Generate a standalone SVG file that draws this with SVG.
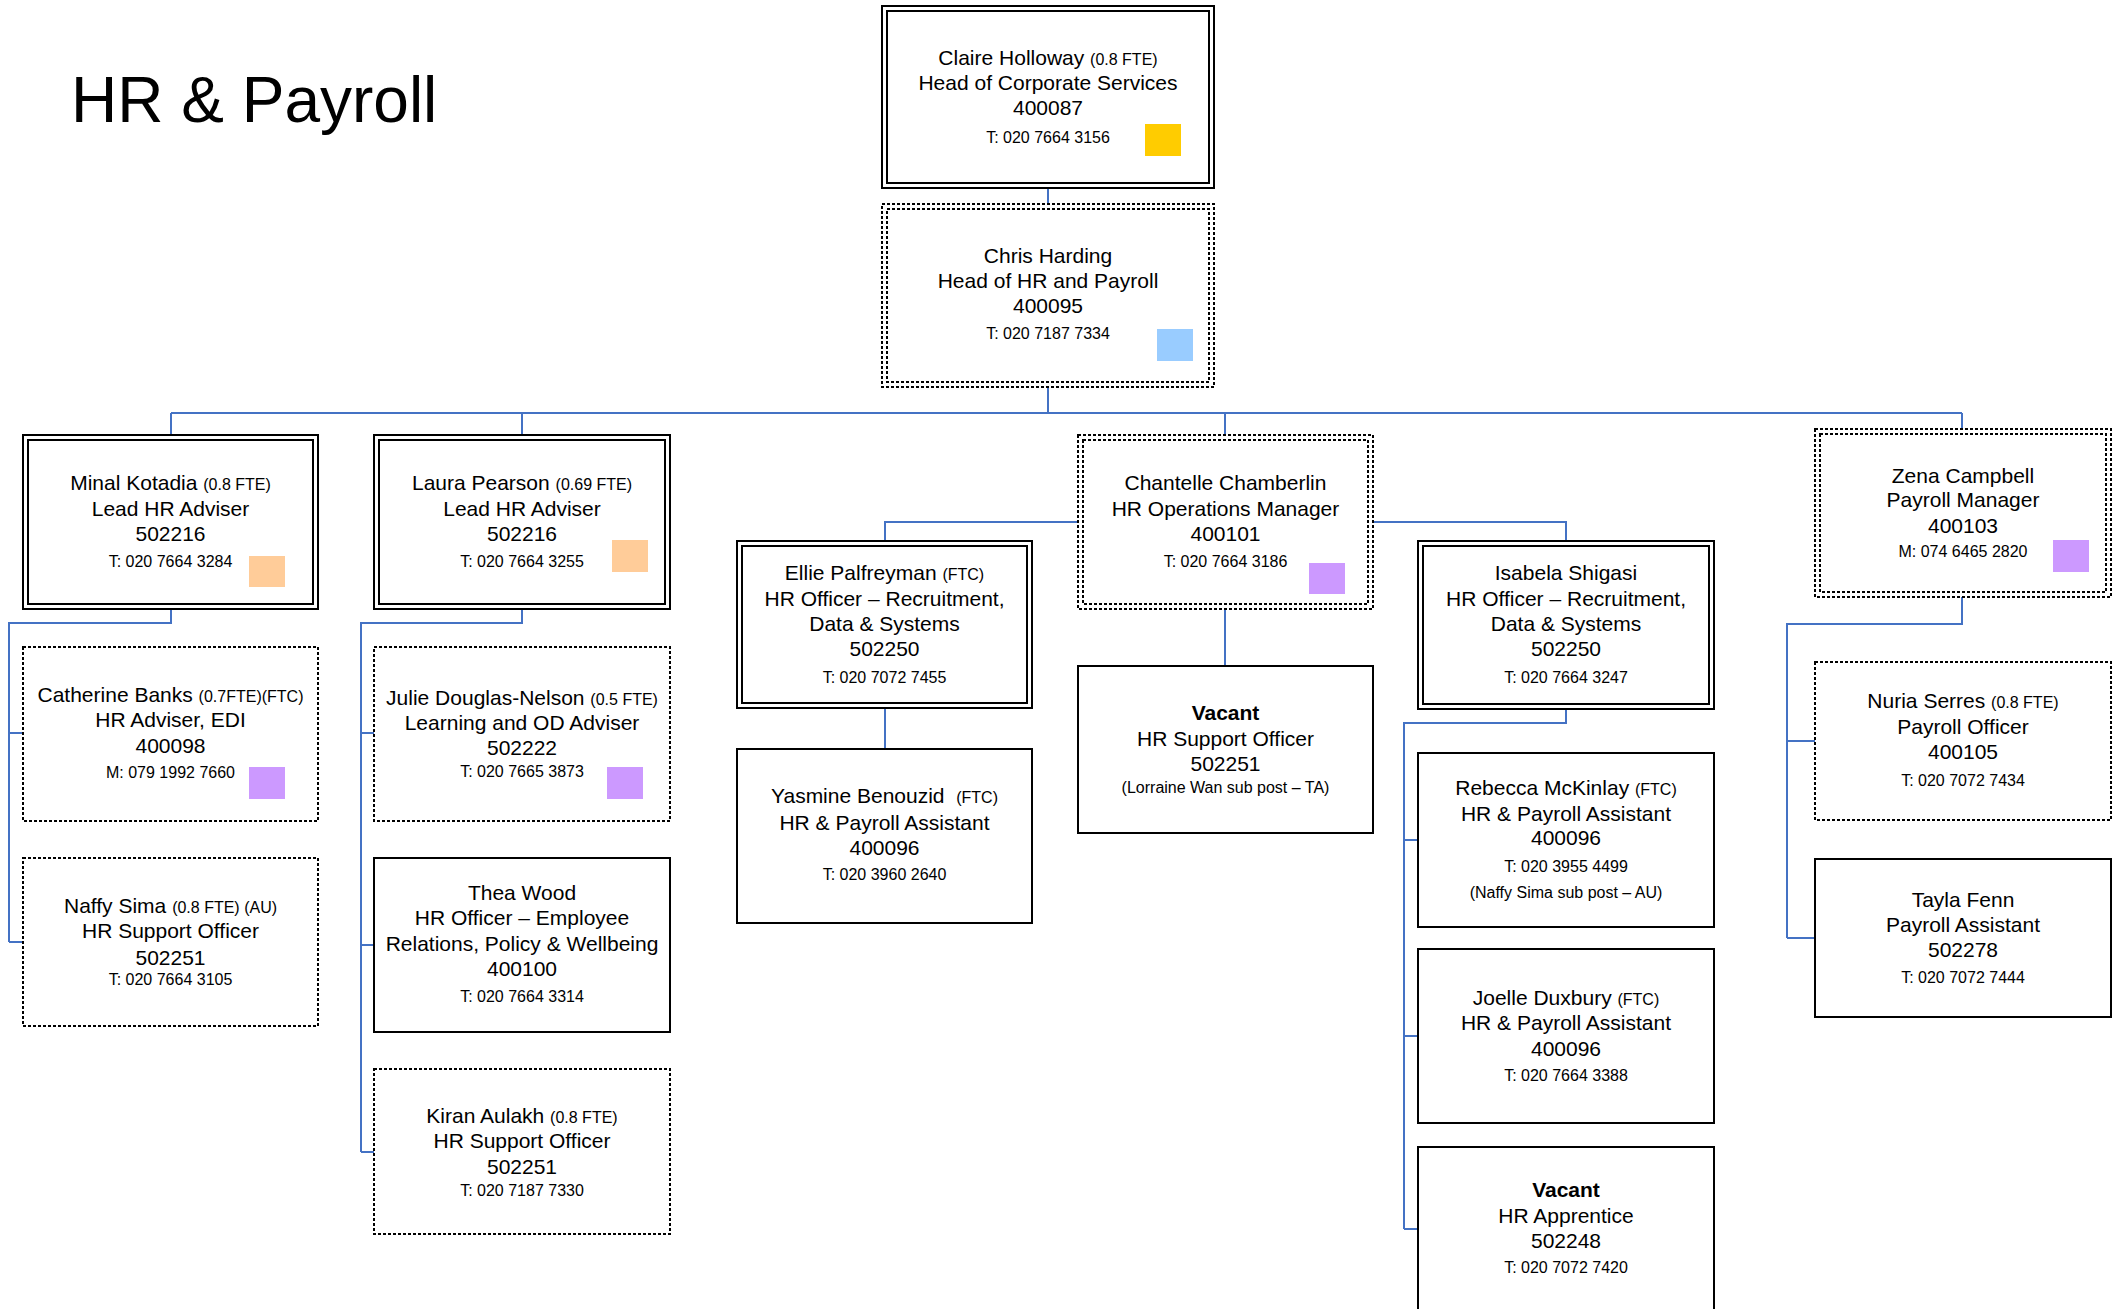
<svg xmlns="http://www.w3.org/2000/svg" width="2121" height="1309" viewBox="0 0 2121 1309">
<style>
text{font-family:"Liberation Sans",Arial,sans-serif;fill:#000;text-anchor:middle;font-size:21px}
.title{font-size:64px;text-anchor:start}
.s{font-size:16px}
.b{font-weight:bold}
.solid{fill:none;stroke:#000;stroke-width:2}
.dot{fill:none;stroke:#000;stroke-width:2;stroke-dasharray:3 2}
.con{fill:none;stroke:#4472C4;stroke-width:2}
.bg{fill:#fff;stroke:none}
</style>
<rect x="0" y="0" width="2121" height="1309" fill="#fff"/>
<text class="title" x="71" y="122">HR &amp; Payroll</text>

<g id="connectors">
<path class="con" d="M1048 188V204"/>
<path class="con" d="M1048 387V413"/>
<path class="con" d="M171 413H1962"/>
<path class="con" d="M171 413V435M522 413V435M1225 413V435M1962 413V429"/>
<path class="con" d="M171 609V623H9V942M9 733H23M9 942H23"/>
<path class="con" d="M522 609V623H361V1152M361 733H374M361 945H374M361 1152H374"/>
<path class="con" d="M1078 522H885V541M1373 522H1566V541M1225 609V666"/>
<path class="con" d="M885 708V749"/>
<path class="con" d="M1566 709V723H1404V1229M1404 840H1418M1404 1036H1418M1404 1229H1418"/>
<path class="con" d="M1962 597V624H1787V938M1787 741H1815M1787 938H1815"/>
</g>

<g id="claire">
<rect class="bg" x="882" y="6" width="332" height="182"/>
<rect class="solid" x="882" y="6" width="332" height="182"/>
<rect class="solid" x="887" y="11" width="322" height="172"/>
<text x="1048" y="65">Claire Holloway <tspan class="s">(0.8 FTE)</tspan></text>
<text x="1048" y="90">Head of Corporate Services</text>
<text x="1048" y="115">400087</text>
<text class="s" x="1048" y="143">T: 020 7664 3156</text>
<rect x="1145" y="124" width="36" height="32" fill="#FFCC00"/>
</g>

<g id="chris">
<rect class="bg" x="882" y="204" width="332" height="183"/>
<rect class="dot" x="882" y="204" width="332" height="183"/>
<rect class="dot" x="887" y="209" width="322" height="173"/>
<text x="1048" y="263">Chris Harding</text>
<text x="1048" y="288">Head of HR and Payroll</text>
<text x="1048" y="313">400095</text>
<text class="s" x="1048" y="339">T: 020 7187 7334</text>
<rect x="1157" y="329" width="36" height="32" fill="#99CCFF"/>
</g>

<g id="minal">
<rect class="bg" x="23" y="435" width="295" height="174"/>
<rect class="solid" x="23" y="435" width="295" height="174"/>
<rect class="solid" x="28" y="440" width="285" height="164"/>
<text x="170.5" y="490">Minal Kotadia <tspan class="s">(0.8 FTE)</tspan></text>
<text x="170.5" y="516">Lead HR Adviser</text>
<text x="170.5" y="541">502216</text>
<text class="s" x="170.5" y="567">T: 020 7664 3284</text>
<rect x="249" y="556" width="36" height="31" fill="#FFCC99"/>
</g>

<g id="catherine">
<rect class="dot" x="23" y="647" width="295" height="174"/>
<text x="170.5" y="702">Catherine Banks <tspan class="s">(0.7FTE)(FTC)</tspan></text>
<text x="170.5" y="727">HR Adviser, EDI</text>
<text x="170.5" y="753">400098</text>
<text class="s" x="170.5" y="778">M: 079 1992 7660</text>
<rect x="249" y="767" width="36" height="32" fill="#CC99FF"/>
</g>

<g id="naffy">
<rect class="dot" x="23" y="858" width="295" height="168"/>
<text x="170.5" y="913">Naffy Sima <tspan class="s">(0.8 FTE) (AU)</tspan></text>
<text x="170.5" y="938">HR Support Officer</text>
<text x="170.5" y="965">502251</text>
<text class="s" x="170.5" y="985">T: 020 7664 3105</text>
</g>

<g id="laura">
<rect class="bg" x="374" y="435" width="296" height="174"/>
<rect class="solid" x="374" y="435" width="296" height="174"/>
<rect class="solid" x="379" y="440" width="286" height="164"/>
<text x="522" y="490">Laura Pearson <tspan class="s">(0.69 FTE)</tspan></text>
<text x="522" y="516">Lead HR Adviser</text>
<text x="522" y="541">502216</text>
<text class="s" x="522" y="567">T: 020 7664 3255</text>
<rect x="612" y="540" width="36" height="32" fill="#FFCC99"/>
</g>

<g id="julie">
<rect class="dot" x="374" y="647" width="296" height="174"/>
<text x="522" y="705">Julie Douglas-Nelson <tspan class="s">(0.5 FTE)</tspan></text>
<text x="522" y="730">Learning and OD Adviser</text>
<text x="522" y="755">502222</text>
<text class="s" x="522" y="777">T: 020 7665 3873</text>
<rect x="607" y="767" width="36" height="32" fill="#CC99FF"/>
</g>

<g id="thea">
<rect class="solid" x="374" y="858" width="296" height="174"/>
<text x="522" y="900">Thea Wood</text>
<text x="522" y="925">HR Officer – Employee</text>
<text x="522" y="951">Relations, Policy &amp; Wellbeing</text>
<text x="522" y="976">400100</text>
<text class="s" x="522" y="1002">T: 020 7664 3314</text>
</g>

<g id="kiran">
<rect class="dot" x="374" y="1069" width="296" height="165"/>
<text x="522" y="1123">Kiran Aulakh <tspan class="s">(0.8 FTE)</tspan></text>
<text x="522" y="1148">HR Support Officer</text>
<text x="522" y="1174">502251</text>
<text class="s" x="522" y="1196">T: 020 7187 7330</text>
</g>

<g id="chantelle">
<rect class="bg" x="1078" y="435" width="295" height="174"/>
<rect class="dot" x="1078" y="435" width="295" height="174"/>
<rect class="dot" x="1083" y="440" width="285" height="164"/>
<text x="1225.5" y="490">Chantelle Chamberlin</text>
<text x="1225.5" y="516">HR Operations Manager</text>
<text x="1225.5" y="541">400101</text>
<text class="s" x="1225.5" y="567">T: 020 7664 3186</text>
<rect x="1309" y="563" width="36" height="31" fill="#CC99FF"/>
</g>

<g id="ellie">
<rect class="bg" x="737" y="541" width="295" height="167"/>
<rect class="solid" x="737" y="541" width="295" height="167"/>
<rect class="solid" x="742" y="546" width="285" height="157"/>
<text x="884.5" y="580">Ellie Palfreyman <tspan class="s">(FTC)</tspan></text>
<text x="884.5" y="606">HR Officer – Recruitment,</text>
<text x="884.5" y="631">Data &amp; Systems</text>
<text x="884.5" y="656">502250</text>
<text class="s" x="884.5" y="683">T: 020 7072 7455</text>
</g>

<g id="yasmine">
<rect class="solid" x="737" y="749" width="295" height="174"/>
<text x="884.5" y="803" xml:space="preserve">Yasmine Benouzid  <tspan class="s">(FTC)</tspan></text>
<text x="884.5" y="830">HR &amp; Payroll Assistant</text>
<text x="884.5" y="855">400096</text>
<text class="s" x="884.5" y="880">T: 020 3960 2640</text>
</g>

<g id="vacant-support">
<rect class="solid" x="1078" y="666" width="295" height="167"/>
<text class="b" x="1225.5" y="720">Vacant</text>
<text x="1225.5" y="746">HR Support Officer</text>
<text x="1225.5" y="771">502251</text>
<text class="s" x="1225.5" y="793">(Lorraine Wan sub post – TA)</text>
</g>

<g id="isabela">
<rect class="bg" x="1418" y="541" width="296" height="168"/>
<rect class="solid" x="1418" y="541" width="296" height="168"/>
<rect class="solid" x="1423" y="546" width="286" height="158"/>
<text x="1566" y="580">Isabela Shigasi</text>
<text x="1566" y="606">HR Officer – Recruitment,</text>
<text x="1566" y="631">Data &amp; Systems</text>
<text x="1566" y="656">502250</text>
<text class="s" x="1566" y="683">T: 020 7664 3247</text>
</g>

<g id="rebecca">
<rect class="solid" x="1418" y="753" width="296" height="174"/>
<text x="1566" y="795">Rebecca McKinlay <tspan class="s">(FTC)</tspan></text>
<text x="1566" y="821">HR &amp; Payroll Assistant</text>
<text x="1566" y="845">400096</text>
<text class="s" x="1566" y="872">T: 020 3955 4499</text>
<text class="s" x="1566" y="898">(Naffy Sima sub post – AU)</text>
</g>

<g id="joelle">
<rect class="solid" x="1418" y="949" width="296" height="174"/>
<text x="1566" y="1005">Joelle Duxbury <tspan class="s">(FTC)</tspan></text>
<text x="1566" y="1030">HR &amp; Payroll Assistant</text>
<text x="1566" y="1056">400096</text>
<text class="s" x="1566" y="1081">T: 020 7664 3388</text>
</g>

<g id="vacant-apprentice">
<rect class="solid" x="1418" y="1147" width="296" height="200"/>
<text class="b" x="1566" y="1197">Vacant</text>
<text x="1566" y="1223">HR Apprentice</text>
<text x="1566" y="1248">502248</text>
<text class="s" x="1566" y="1273">T: 020 7072 7420</text>
</g>

<g id="zena">
<rect class="bg" x="1815" y="429" width="296" height="168"/>
<rect class="dot" x="1815" y="429" width="296" height="168"/>
<rect class="dot" x="1820" y="434" width="286" height="158"/>
<text x="1963" y="483">Zena Campbell</text>
<text x="1963" y="507">Payroll Manager</text>
<text x="1963" y="533">400103</text>
<text class="s" x="1963" y="557">M: 074 6465 2820</text>
<rect x="2053" y="540" width="36" height="32" fill="#CC99FF"/>
</g>

<g id="nuria">
<rect class="dot" x="1815" y="662" width="296" height="158"/>
<text x="1963" y="708">Nuria Serres <tspan class="s">(0.8 FTE)</tspan></text>
<text x="1963" y="734">Payroll Officer</text>
<text x="1963" y="759">400105</text>
<text class="s" x="1963" y="786">T: 020 7072 7434</text>
</g>

<g id="tayla">
<rect class="solid" x="1815" y="859" width="296" height="158"/>
<text x="1963" y="907">Tayla Fenn</text>
<text x="1963" y="932">Payroll Assistant</text>
<text x="1963" y="957">502278</text>
<text class="s" x="1963" y="983">T: 020 7072 7444</text>
</g>
</svg>
